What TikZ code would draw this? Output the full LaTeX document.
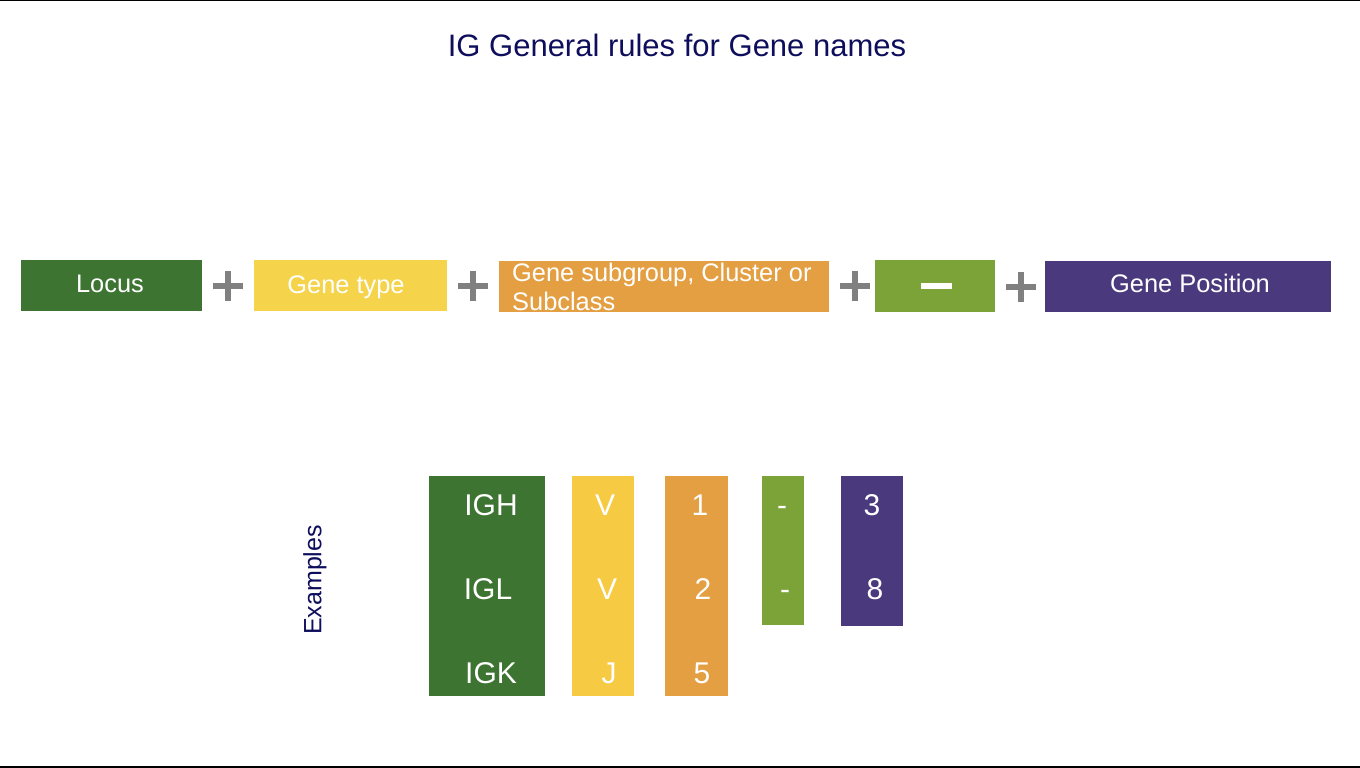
\documentclass[tikz,border=0pt]{standalone}
\usepackage{fontspec}
\setmainfont{Liberation Sans}
\definecolor{cgreen}{HTML}{3D7431}
\definecolor{cyellow}{HTML}{F5D34A}
\definecolor{corange}{HTML}{E49F42}
\definecolor{clime}{HTML}{7BA337}
\definecolor{cpurple}{HTML}{4A3A7D}
\definecolor{cnavy}{HTML}{0E0E5C}
\definecolor{cplus}{HTML}{808080}
\begin{document}
\begin{tikzpicture}[x=1pt,y=-1pt,
  box/.style={draw=none,inner sep=0pt,outer sep=0pt},
  toplabel/.style={anchor=base,text=white,inner sep=0pt,font=\fontsize{25.4}{29}\selectfont},
  exlabel/.style={anchor=base,text=white,inner sep=0pt,font=\fontsize{30}{34}\selectfont},
  plusbar/.style={draw=cplus,line width=6pt}]
\useasboundingbox (0,0) rectangle (1360,768);
\fill[black] (0,0) rectangle (1360,1.5);
\fill[black] (0,766) rectangle (1360,768);
% title
\node[anchor=base,text=cnavy,inner sep=0pt,font=\fontsize{31}{35}\selectfont] (title) at (677,57) {IG General rules for Gene names};
% top row boxes
\fill[cgreen] (21,260) rectangle (202,311);
\node[box,minimum width=181pt,minimum height=51pt] (locus) at (111.5,285.5) {};
\fill[cyellow] (254,260) rectangle (447,311);
\node[box,minimum width=193pt,minimum height=51pt] (gtype) at (350.5,285.5) {};
\fill[corange] (499,261) rectangle (829,312);
\node[box,minimum width=330pt,minimum height=51pt] (subgroup) at (664,286.5) {};
\fill[clime] (875,260) rectangle (995,312);
\node[box,minimum width=120pt,minimum height=52pt] (dash) at (935,286) {};
\fill[white] (921,283) rectangle (952,289);
\fill[cpurple] (1045,261) rectangle (1331,312);
\node[box,minimum width=286pt,minimum height=51pt] (pos) at (1188,286.5) {};
% top labels
\node[toplabel] (locusT) at (110,292) {Locus};
\node[toplabel] (gtypeT) at (346,293) {Gene type};
\node[toplabel,anchor=base west] (subT1) at (512,281) {Gene subgroup, Cluster or};
\node[toplabel,anchor=base west] (subT2) at (512,310) {Subclass};
\node[toplabel] (posT) at (1190,292) {Gene Position};
% plus signs
\foreach \x/\y in {228/286, 473/286, 855/286, 1021/287}{
  \draw[plusbar] (\x-15,\y) -- (\x+15,\y);
  \draw[plusbar] (\x,\y-15) -- (\x,\y+15);
}
% examples label
\node[text=cnavy,inner sep=0pt,rotate=90,font=\fontsize{25}{29}\selectfont] (ex) at (315,580) {Examples};
% example boxes
\fill[cgreen] (429,476) rectangle (545,696);
\fill[cyellow!90!orange] (572,476) rectangle (634,696);
\fill[corange] (665,476) rectangle (728,696);
\fill[clime] (762,476) rectangle (804,625);
\fill[cpurple] (841,476) rectangle (903,626);
% example texts
\node[exlabel] (e11) at (491,515) {IGH};
\node[exlabel] (e21) at (488,599) {IGL};
\node[exlabel] (e31) at (491,683) {IGK};
\node[exlabel] (e12) at (605,515) {V};
\node[exlabel] (e22) at (607,599) {V};
\node[exlabel] (e32) at (609,683) {J};
\node[exlabel] (e13) at (700,515) {1};
\node[exlabel] (e23) at (703,599) {2};
\node[exlabel] (e33) at (702,683) {5};
\node[exlabel] (e14) at (782,515) {-};
\node[exlabel] (e24) at (785,599) {-};
\node[exlabel] (e15) at (872,515) {3};
\node[exlabel] (e25) at (875,599) {8};
\end{tikzpicture}
\end{document}
